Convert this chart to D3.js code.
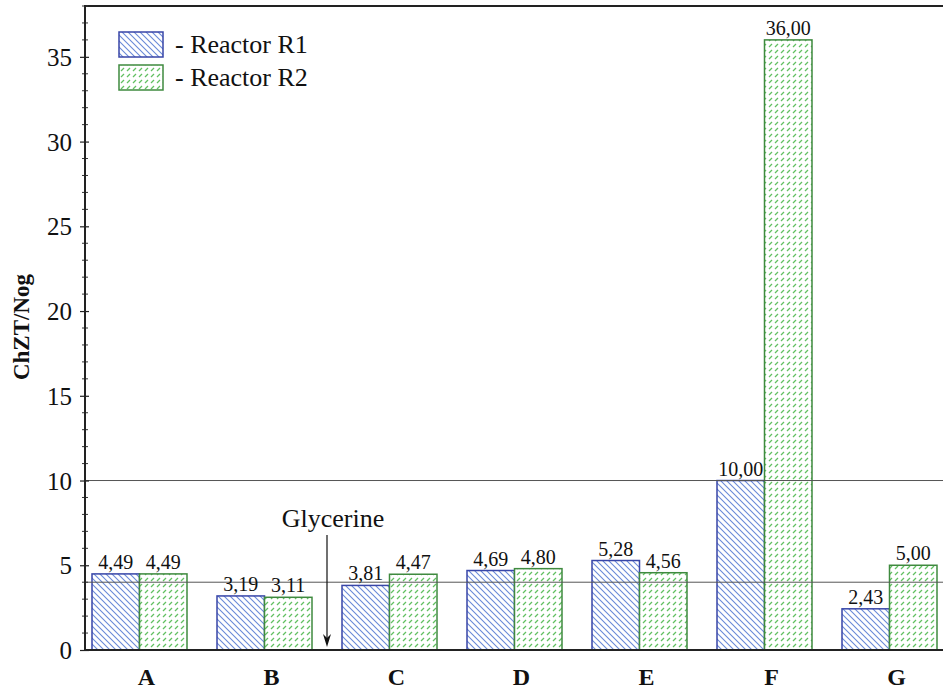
<!DOCTYPE html>
<html><head><meta charset="utf-8">
<script src="https://cdn.jsdelivr.net/npm/d3@7"></script>
<style>body{margin:0;background:#fff}svg{display:block}svg text{font-family:'Liberation Serif','Times New Roman',serif}</style>
</head><body>
<svg id="c" width="943" height="690"></svg>
<script>
const categories = ["A","B","C","D","E","F","G"];
const reactorR1 = [4.49, 3.19, 3.81, 4.69, 5.28, 10.00, 2.43];
const reactorR2 = [4.49, 3.11, 4.47, 4.80, 4.56, 36.00, 5.00];
const seriesNames = ["- Reactor R1", "- Reactor R2"];
const yTicks = [0,5,10,15,20,25,30,35];
const refLines = [4, 10];
const yTitle = "ChZT/Nog";
const annotation = {text:"Glycerine", after:"B"};

const svg = d3.select("#c");
const L = 85, R = 944, T = 6, B = 650;
const serif = "'Liberation Serif','Times New Roman',serif";

const y = d3.scaleLinear().domain([0, 38]).range([B, T]);
const x = d3.scaleBand().domain(categories).range([L, R]).paddingInner(0.24).paddingOuter(0.056);
const xs = d3.scaleBand().domain([0,1]).range([0, x.bandwidth()]);

const defs = svg.append("defs");
const p1 = defs.append("pattern").attr("id","h1").attr("patternUnits","userSpaceOnUse").attr("width",6).attr("height",6);
p1.append("rect").attr("width",6).attr("height",6).attr("fill","#fff");
p1.append("path").attr("d","M-1,-1L7,7M-1,5L1,7M5,-1L7,1").attr("stroke","#6a8ad8").attr("stroke-width",1.1);
const p2 = defs.append("pattern").attr("id","h2").attr("patternUnits","userSpaceOnUse").attr("width",6).attr("height",6);
p2.append("rect").attr("width",6).attr("height",6).attr("fill","#fff");
p2.append("path").attr("d","M1,5L4,2").attr("stroke","#62c062").attr("stroke-width",1.2);

const fills = ["url(#h1)","url(#h2)"];
const strokes = ["#3846a8","#3f8a3f"];
const series = [reactorR1, reactorR2];

// bars
series.forEach((vals, si) => {
  svg.append("g").selectAll("rect").data(categories).join("rect")
    .attr("x", d => x(d) + xs(si))
    .attr("y", (d,i) => y(vals[i]))
    .attr("width", xs.bandwidth())
    .attr("height", (d,i) => y(0) - y(vals[i]))
    .attr("fill", fills[si]).attr("stroke", strokes[si]).attr("stroke-width", 1.5);
});

// reference lines
svg.append("g").selectAll("line").data(refLines).join("line")
  .attr("x1", L).attr("x2", 943).attr("y1", d => y(d)).attr("y2", d => y(d))
  .attr("stroke", "#555").attr("stroke-width", 1);

// value labels
const fmt = v => d3.format(".2f")(v).replace(".", ",");
series.forEach((vals, si) => {
  svg.append("g").selectAll("text").data(categories).join("text")
    .attr("x", d => x(d) + xs(si) + xs.bandwidth()/2)
    .attr("y", (d,i) => y(vals[i]) - 5)
    .attr("text-anchor","middle").attr("font-family", serif).attr("font-size", 20).attr("fill","#111")
    .text((d,i) => fmt(vals[i]));
});

// frame
svg.append("line").attr("x1",L).attr("x2",943).attr("y1",T).attr("y2",T).attr("stroke","#222").attr("stroke-width",2);

// y axis
const yAxis = d3.axisLeft(y).tickValues(yTicks).tickSize(5).tickPadding(8);
const gy = svg.append("g").attr("transform",`translate(${L},0)`).call(yAxis);
gy.attr("font-family", serif);
gy.select(".domain").remove();
gy.selectAll(".tick line").attr("stroke","#222").attr("x2",-5).attr("x1",4).attr("stroke-width",1.2);
gy.selectAll(".tick text").attr("font-family",serif).attr("font-size",25).attr("fill","#111").attr("dy","0.34em");
// minor ticks
svg.append("g").selectAll("line").data(d3.range(0, 39, 1).filter(v => v % 5 !== 0)).join("line")
  .attr("x1", L-3).attr("x2", L+3).attr("y1", d => y(d)).attr("y2", d => y(d))
  .attr("stroke","#333").attr("stroke-width",1);
svg.append("line").attr("x1",L).attr("x2",L).attr("y1",T-1).attr("y2",B+1).attr("stroke","#222").attr("stroke-width",2);

// x axis
const xAxis = d3.axisBottom(x).tickSize(0).tickPadding(18);
const gx = svg.append("g").attr("transform",`translate(0,${B})`).call(xAxis);
gx.attr("font-family", serif);
gx.select(".domain").remove();
gx.selectAll(".tick text").attr("font-family",serif).attr("font-size",24).attr("font-weight","bold").attr("fill","#111").attr("dx",7).attr("dy","0.72em");
svg.append("line").attr("x1",L).attr("x2",943).attr("y1",B).attr("y2",B).attr("stroke","#222").attr("stroke-width",2);

// y title
svg.append("text").attr("transform","translate(29,327) rotate(-90)")
  .attr("text-anchor","middle").attr("font-family",serif).attr("font-size",23).attr("font-weight","bold").attr("fill","#111")
  .text(yTitle);

// annotation
const ai = categories.indexOf(annotation.after);
const ax = (x(categories[ai]) + x.bandwidth() + x(categories[ai+1])) / 2;
svg.append("text").attr("x", ax + 6).attr("y", 527).attr("text-anchor","middle")
  .attr("font-family",serif).attr("font-size",26).attr("fill","#111").text(annotation.text);
svg.append("line").attr("x1",ax).attr("x2",ax).attr("y1",535).attr("y2",B-12).attr("stroke","#111").attr("stroke-width",1.2);
svg.append("path").attr("d",`M${ax-4},${B-16}L${ax},${B-3}L${ax+4},${B-16}L${ax},${B-12}Z`).attr("fill","#111");

// legend
const lg = svg.append("g");
seriesNames.forEach((n, i) => {
  const yy = 32 + i*33;
  lg.append("rect").attr("x",119).attr("y",yy).attr("width",44).attr("height",25)
    .attr("fill",fills[i]).attr("stroke",strokes[i]).attr("stroke-width",1.5);
  lg.append("text").attr("x",175).attr("y",yy+21).attr("font-family",serif).attr("font-size",26).attr("fill","#111").text(n);
});
</script>
</body></html>
